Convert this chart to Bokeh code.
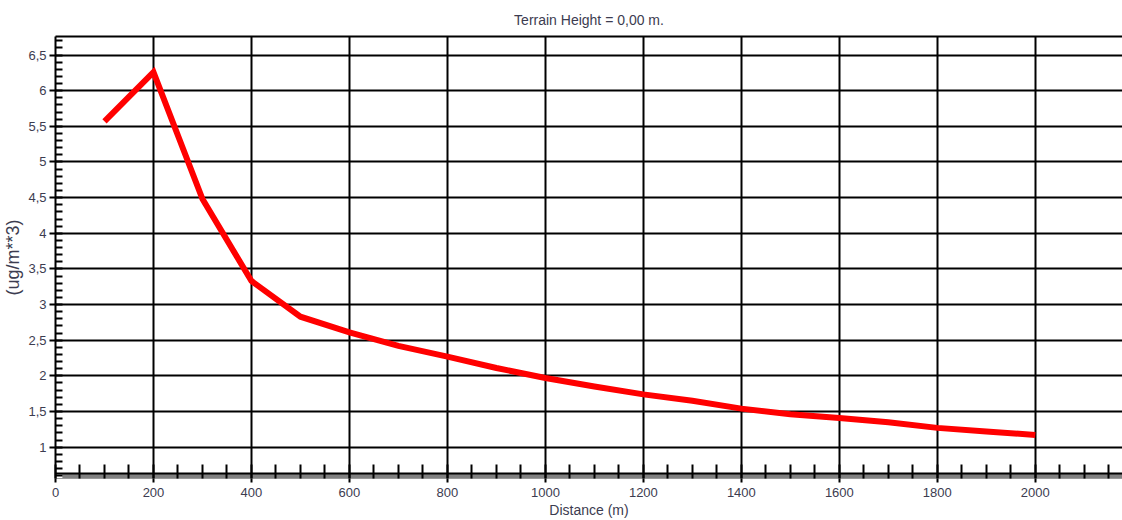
from bokeh.plotting import figure
from bokeh.embed import file_html
from bokeh.resources import INLINE
from bokeh.models import (Range1d, SingleIntervalTicker, CustomJSTickFormatter, Span,
                          BoxAnnotation, LinearAxis, FixedTicker)

# Data
distance_m = [100, 200, 300, 400, 500, 600, 700, 800, 900, 1000,
              1100, 1200, 1300, 1400, 1500, 1600, 1700, 1800, 1900, 2000]
concentration = [5.57, 6.26, 4.48, 3.33, 2.83, 2.61, 2.42, 2.27, 2.11, 1.97,
                 1.85, 1.74, 1.65, 1.54, 1.46, 1.41, 1.35, 1.27, 1.22, 1.17]

title_text = "Terrain Height = 0,00 m."
x_label = "Distance (m)"
y_label = "(ug/m**3)"

TXT = "#3c3c50"
FONT = "Liberation Sans"

p = figure(width=1122, height=520, output_backend="svg", toolbar_location=None,
           x_range=Range1d(0, 2178), y_range=Range1d(0.56, 6.76),
           min_border_left=0, min_border_right=0, min_border_top=0, min_border_bottom=0,
           background_fill_color="white", border_fill_color="white")
p.outline_line_color = None

p.title.text = title_text
p.title.align = "center"
p.title.text_font = FONT
p.title.text_font_size = "14px"
p.title.text_font_style = "normal"
p.title.text_color = TXT
p.title.standoff = 18
p.title.offset = 0

fmt = CustomJSTickFormatter(code="return tick.toString().replace('.', ',');")

# x axis
xa = p.xaxis[0]
xa.ticker = SingleIntervalTicker(interval=200, num_minor_ticks=4)
xa.formatter = fmt
xa.axis_label = x_label
xa.axis_label_text_font = FONT
xa.axis_label_text_font_size = "14px"
xa.axis_label_text_font_style = "normal"
xa.axis_label_text_color = TXT
xa.axis_label_standoff = 2
xa.major_label_text_font = FONT
xa.major_label_text_font_size = "13px"
xa.major_label_text_color = TXT
xa.major_label_standoff = 5
xa.axis_line_color = "#9a9a9a"
xa.axis_line_width = 1
xa.major_tick_line_color = "black"
xa.major_tick_line_width = 2
xa.major_tick_in = 0
xa.major_tick_out = 4
xa.minor_tick_line_color = "black"
xa.minor_tick_line_width = 2
xa.minor_tick_in = 14
xa.minor_tick_out = 0

# y axis
ya = p.yaxis[0]
ya.ticker = SingleIntervalTicker(interval=0.5, num_minor_ticks=5)
ya.formatter = fmt
ya.axis_label = y_label
ya.axis_label_text_font = FONT
ya.axis_label_text_font_size = "18px"
ya.axis_label_text_font_style = "normal"
ya.axis_label_text_color = TXT
ya.axis_label_standoff = 2
ya.major_label_text_font = FONT
ya.major_label_text_font_size = "13px"
ya.major_label_text_color = TXT
ya.major_label_standoff = 3
ya.axis_line_color = "black"
ya.axis_line_width = 2
ya.major_tick_line_color = "black"
ya.major_tick_line_width = 2
ya.major_tick_in = 0
ya.major_tick_out = 6
ya.minor_tick_line_color = "black"
ya.minor_tick_line_width = 2
ya.minor_tick_in = 7
ya.minor_tick_out = 0

# top border as a bare axis line
top = LinearAxis(ticker=FixedTicker(ticks=[]), major_label_text_font_size="0px",
                 axis_line_color="black", axis_line_width=2,
                 major_tick_out=0, major_tick_in=0, minor_tick_out=0, minor_tick_in=0)
p.add_layout(top, "above")

# grids
p.xgrid.grid_line_color = "black"
p.xgrid.grid_line_width = 2
p.ygrid.grid_line_color = "black"
p.ygrid.grid_line_width = 2

# gray shadow band under the axis line
band = BoxAnnotation(top=0.63, left=14, fill_color="#808080", fill_alpha=1.0,
                     line_alpha=0, level="image")
p.add_layout(band)
p.add_layout(Span(location=0.63, dimension="width", line_color="black", line_width=2))

p.line(distance_m, concentration, line_color="#ff0000", line_width=6, line_join="miter")

open("out.html", "w").write(file_html(p, INLINE))
